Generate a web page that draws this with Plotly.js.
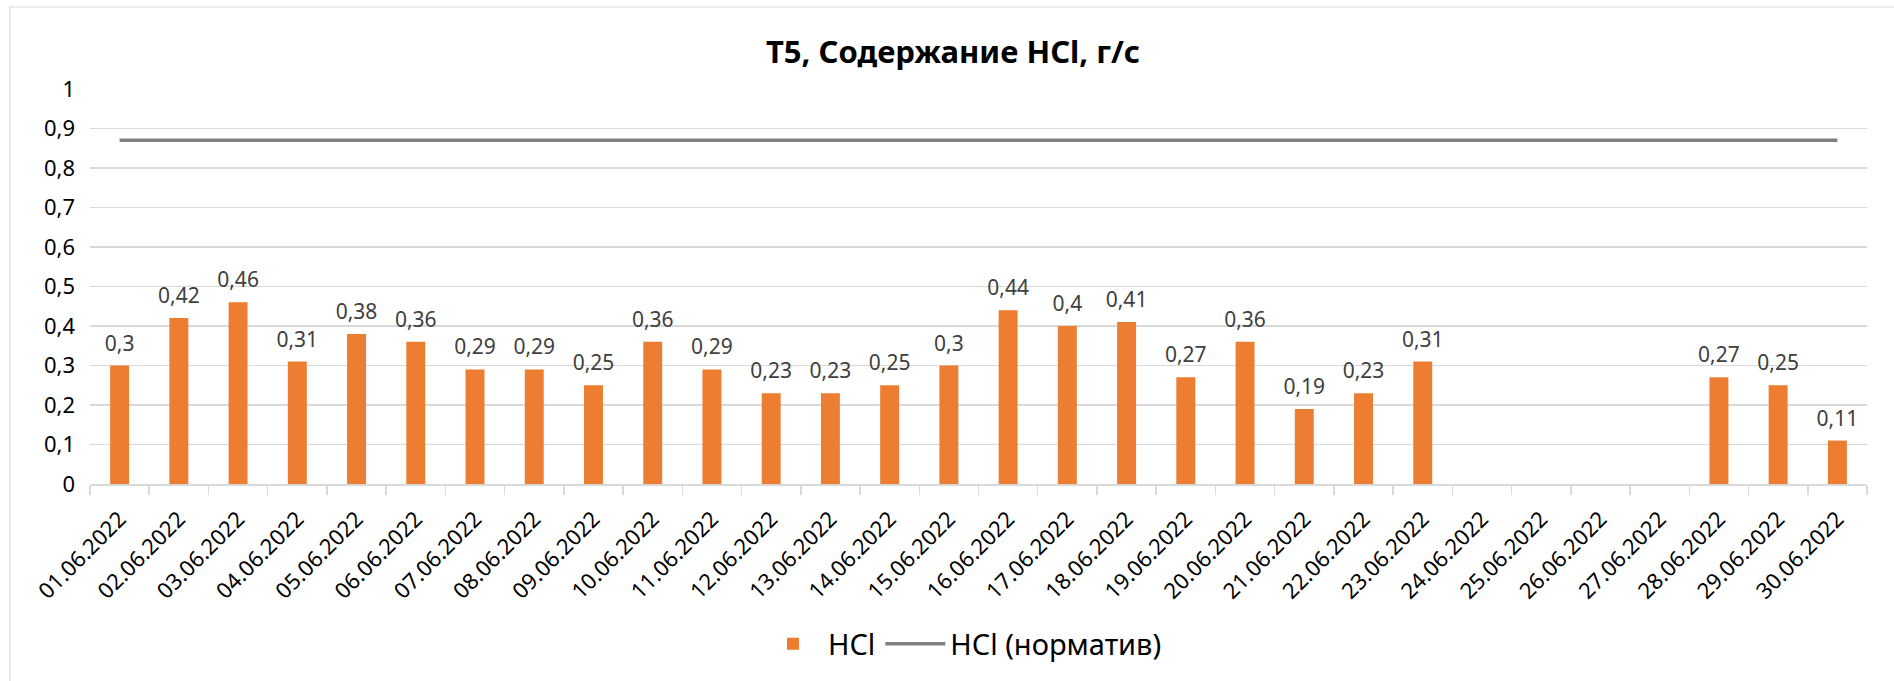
<!DOCTYPE html>
<html>
<head>
<meta charset="utf-8">
<script src="https://cdn.plot.ly/plotly-3.0.1.min.js"></script>
<style>html,body{margin:0;padding:0;background:#fff;}#chart{width:1894px;height:681px;}</style>
</head>
<body>
<div id="chart"></div>
<script>
const dates = ["01.06.2022","02.06.2022","03.06.2022","04.06.2022","05.06.2022","06.06.2022","07.06.2022","08.06.2022","09.06.2022","10.06.2022","11.06.2022","12.06.2022","13.06.2022","14.06.2022","15.06.2022","16.06.2022","17.06.2022","18.06.2022","19.06.2022","20.06.2022","21.06.2022","22.06.2022","23.06.2022","24.06.2022","25.06.2022","26.06.2022","27.06.2022","28.06.2022","29.06.2022","30.06.2022"];
const hcl = [0.3,0.42,0.46,0.31,0.38,0.36,0.29,0.29,0.25,0.36,0.29,0.23,0.23,0.25,0.3,0.44,0.4,0.41,0.27,0.36,0.19,0.23,0.31,null,null,null,null,0.27,0.25,0.11];
const norm = [0.87,0.87,0.87,0.87,0.87,0.87,0.87,0.87,0.87,0.87,0.87,0.87,0.87,0.87,0.87,0.87,0.87,0.87,0.87,0.87,0.87,0.87,0.87,0.87,0.87,0.87,0.87,0.87,0.87,0.87];
const yTicks = [0,0.1,0.2,0.3,0.4,0.5,0.6,0.7,0.8,0.9,1];
const yTickText = ["0","0,1","0,2","0,3","0,4","0,5","0,6","0,7","0,8","0,9","1"];

const FONT = "'Noto Sans', 'Open Sans', sans-serif";
const labels = hcl.map(v => v === null ? "" : String(v).replace('.', ','));

const traces = [
  {type:'bar', name:'HCl', x:dates, y:hcl, marker:{color:'#ED7D31'}, hoverinfo:'skip'},
  {type:'scatter', mode:'lines', name:'HCl (норматив)', x:dates, y:norm,
   line:{color:'#808080', width:3.5}, hoverinfo:'skip'},
  {type:'scatter', mode:'markers+text', x:dates, y:hcl, text:labels, textposition:'top center',
   marker:{size:14, color:'rgba(0,0,0,0)'}, textfont:{family:FONT, size:21, color:'#404040'},
   showlegend:false, hoverinfo:'skip', cliponaxis:false}
];

const layout = {
  width:1894, height:681,
  margin:{l:90, r:27, t:89, b:197, autoexpand:false},
  paper_bgcolor:'#fff', plot_bgcolor:'#fff',
  font:{family:FONT, color:'#262626'},
  title:{text:'<b>T5, Содержание HCl, г/с</b>', font:{family:FONT, size:31, color:'#000'},
         xref:'container', yref:'container', x:953/1894, y:1-52/681, xanchor:'center', yanchor:'middle'},
  bargap:0.68,
  showlegend:true,
  legend:{orientation:'h', x:0.491, xanchor:'center', y:-0.405, yanchor:'middle', itemwidth:60,
          font:{family:FONT, size:29, color:'#000'}, traceorder:'normal'},
  xaxis:{type:'category', range:[-0.5, dates.length - 0.5], autorange:false, tickangle:-45,
         tickfont:{family:FONT, size:22, color:'#000'}, ticklabelstandoff:12,
         showgrid:false, showline:true, linecolor:'#d9d9d9', linewidth:1.5,
         ticks:'outside', tickson:'boundaries', ticklen:9, tickcolor:'#d9d9d9', tickwidth:1.5,
         automargin:false, fixedrange:true},
  yaxis:{range:[0,1], tickvals:yTicks, ticktext:yTickText, tickfont:{family:FONT, size:22, color:'#000'},
         showgrid:true, gridcolor:'#d9d9d9', gridwidth:1.3, zeroline:false, showline:false,
         ticks:'', ticklabelstandoff:14, automargin:false, fixedrange:true},
  shapes:[{type:'rect', xref:'paper', yref:'paper', x0:(10-90)/1777, x1:1.03, y0:-0.55, y1:(484-7)/395,
           line:{color:'#d9d9d9', width:1.2}, fillcolor:'rgba(0,0,0,0)', layer:'below'}]
};

Plotly.newPlot('chart', traces, layout, {displayModeBar:false, staticPlot:true});
</script>
</body>
</html>
